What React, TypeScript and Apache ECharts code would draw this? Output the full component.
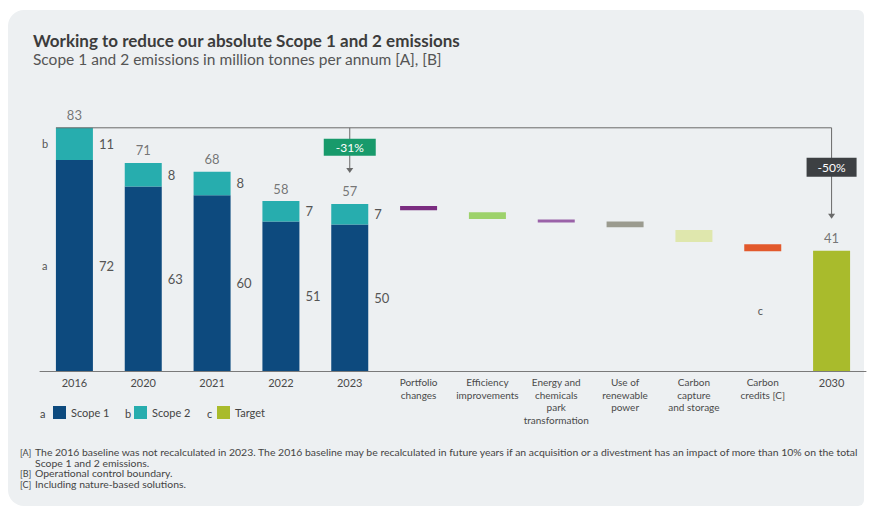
import React, { useEffect, useRef } from 'react';
import * as echarts from 'echarts';

const categories = [
  '2016', '2020', '2021', '2022', '2023',
  'Portfolio\nchanges',
  'Efficiency\nimprovements',
  'Energy and\nchemicals\npark\ntransformation',
  'Use of\nrenewable\npower',
  'Carbon\ncapture\nand storage',
  'Carbon\ncredits [C]',
  '2030',
];
const scope1 = [72, 63, 60, 51, 50];
const scope2 = [11, 8, 8, 7, 7];
const totals = [83, 71, 68, 58, 57];
const stepHigh = [56.3, 54.2, 51.7, 51.0, 48.1, 43.3];
const stepLow = [54.9, 51.9, 50.7, 49.1, 44.0, 40.9];
const target2030 = 41;
const legendNames = ['Scope 1', 'Scope 2', 'Target'];
const legendLetters = ['a', 'b', 'c'];
const changeLabels = ['-31%', '-50%'];
const titleText = 'Working to reduce our absolute Scope 1 and 2 emissions';
const subtitleText = 'Scope 1 and 2 emissions in million tonnes per annum [A], [B]';
const footMarks = ['[A]', '', '[B]', '[C]'];
const footLines = [
  'The 2016 baseline was not recalculated in 2023. The 2016 baseline may be recalculated in future years if an acquisition or a divestment has an impact of more than 10% on the total',
  'Scope 1 and 2 emissions.',
  'Operational control boundary.',
  'Including nature-based solutions.',
];

const FONT = 'Lato, "Noto Sans", sans-serif';
const NAVY = '#0d4a7e';
const TEAL = '#27adae';
const OLIVE = '#a9bb2c';
const STEP_COLORS = ['#7a2c80', '#9dd26b', '#9a62a8', '#9b9b8f', '#dfe7ad', '#e2592c'];
const LABEL = '#555';
const BAR_W = 37;

export default function App() {
  const ref = useRef<HTMLDivElement>(null);
  useEffect(() => {
    document.body.style.margin = '0';
    if (!ref.current) return;
    const chart = echarts.init(ref.current, null, { renderer: 'svg' });
    const n = categories.length;
    const pad = (arr: any[], start: number) => {
      const out: any[] = new Array(n).fill('-');
      arr.forEach((v, i) => (out[start + i] = v));
      return out;
    };
    const leftCats = 5;
    const xData = categories.map((c, i) => ({
      value: c,
      textStyle: { fontSize: i < leftCats || i === n - 1 ? 11 : 10, lineHeight: 12.5 },
    }));

    chart.setOption({
      animation: false,
      backgroundColor: '#ffffff',
      grid: { left: 40, right: 5, top: 78, bottom: 140 },
      xAxis: {
        type: 'category',
        data: xData,
        axisLine: { lineStyle: { color: '#7a7a7a', width: 1 } },
        axisTick: { show: false },
        axisLabel: { color: '#4a4a4a', fontFamily: FONT, margin: 5, interval: 0, verticalAlign: 'top' },
      },
      yAxis: { type: 'value', min: 0, max: 100, show: false, splitLine: { show: false } },
      legend: legendNames.map((name, i) => ({
        data: [name],
        left: [48, 129, 212][i],
        top: 401,
        itemWidth: 13,
        itemHeight: 13,
        icon: 'rect',
        selectedMode: false,
        textStyle: { fontSize: 11, color: '#444', fontFamily: FONT },
      })),
      series: [
        {
          name: 'Scope 1', type: 'bar', stack: 'scope', barWidth: BAR_W, barGap: '-100%',
          data: pad(scope1, 0), itemStyle: { color: NAVY },
          label: { show: true, position: 'right', distance: 6, fontSize: 13, color: LABEL, fontFamily: FONT },
        },
        {
          name: 'Scope 2', type: 'bar', stack: 'scope', barWidth: BAR_W, barGap: '-100%',
          data: pad(scope2, 0), itemStyle: { color: TEAL },
          label: { show: true, position: 'right', distance: 6, fontSize: 13, color: LABEL, fontFamily: FONT },
        },
        {
          name: 'base', type: 'bar', stack: 'step', barWidth: BAR_W, barGap: '-100%', silent: true,
          data: pad(stepLow, leftCats), itemStyle: { color: 'rgba(0,0,0,0)' },
        },
        {
          name: 'step', type: 'bar', stack: 'step', barWidth: BAR_W, barGap: '-100%',
          data: pad(stepHigh.map((h, i) => ({ value: +(h - stepLow[i]).toFixed(2), itemStyle: { color: STEP_COLORS[i] } })), leftCats),
        },
        {
          name: 'Target', type: 'bar', barWidth: BAR_W, barGap: '-100%',
          data: pad([target2030], n - 1), itemStyle: { color: OLIVE },
          label: { show: true, position: 'left', distance: 50, formatter: 'c', fontSize: 11, color: LABEL, fontFamily: FONT },
        },
        {
          name: 'totals', type: 'scatter', symbolSize: 0,
          data: [...totals, ...new Array(n - leftCats - 1).fill('-'), target2030],
          label: { show: true, position: 'top', distance: 6, fontSize: 13, color: LABEL, fontFamily: FONT },
        },
      ],
    });

    const px = (ci: number, v: number) => chart.convertToPixel({ xAxisIndex: 0, yAxisIndex: 0 }, [ci, v]) as number[];
    const [x0, yTop] = px(0, totals[0]);
    const x23 = px(4, totals[4])[0];
    const y23 = px(4, totals[4])[1];
    const [x30, y30] = px(n - 1, target2030);
    const tip23 = y23 - 31;
    const tip30 = y30 - 32;
    const lineStyle = { stroke: '#6a6a6a', lineWidth: 1 };
    const arrow = (x: number, tip: number) => ({
      type: 'polygon', z: 10,
      shape: { points: [[x - 3.5, tip - 5], [x + 3.5, tip - 5], [x, tip]] },
      style: { fill: '#6a6a6a' },
    });

    const graphics: any[] = [
      {
        type: 'rect', z: -10, silent: true,
        shape: { x: 8, y: 10, width: 856, height: 496, r: [16, 6, 6, 16] },
        style: { fill: '#edf0f2' },
      },
      { type: 'text', x: 33, y: 40, style: { text: titleText, font: `bold 17px ${FONT}`, fill: '#3c3c3c', verticalAlign: 'middle' } },
      { type: 'text', x: 33, y: 59, style: { text: subtitleText, font: `15.5px ${FONT}`, fill: '#555', verticalAlign: 'middle' } },
      // reference lines
      { type: 'line', z: 10, shape: { x1: x0 - BAR_W / 2, y1: yTop, x2: x30, y2: yTop }, style: lineStyle },
      { type: 'line', z: 10, shape: { x1: x23, y1: yTop, x2: x23, y2: tip23 - 4 }, style: lineStyle },
      { type: 'line', z: 10, shape: { x1: x30, y1: yTop, x2: x30, y2: tip30 - 4 }, style: lineStyle },
      arrow(x23, tip23),
      arrow(x30, tip30),
      { type: 'rect', z: 11, shape: { x: x23 - 26, y: yTop + 11, width: 52, height: 17 }, style: { fill: '#189a6b' } },
      { type: 'text', z: 12, x: x23, y: yTop + 19.5, style: { text: changeLabels[0], font: `12px ${FONT}`, fill: '#fff', align: 'center', verticalAlign: 'middle' } },
      { type: 'rect', z: 11, shape: { x: x30 - 25, y: yTop + 30, width: 50, height: 19 }, style: { fill: '#3d4043' } },
      { type: 'text', z: 12, x: x30, y: yTop + 39.5, style: { text: changeLabels[1], font: `12px ${FONT}`, fill: '#fff', align: 'center', verticalAlign: 'middle' } },
      // a / b markers next to 2016 bar
      { type: 'text', x: x0 - BAR_W / 2 - 14, y: px(0, scope1[0] + scope2[0] / 2)[1], style: { text: legendLetters[1], font: `11px ${FONT}`, fill: LABEL, verticalAlign: 'middle' } },
      { type: 'text', x: x0 - BAR_W / 2 - 14, y: px(0, scope1[0] / 2)[1], style: { text: legendLetters[0], font: `11px ${FONT}`, fill: LABEL, verticalAlign: 'middle' } },
    ];
    [40, 125, 207].forEach((lx, i) => {
      graphics.push({ type: 'text', x: lx, y: 413, style: { text: legendLetters[i], font: `11px ${FONT}`, fill: '#444', verticalAlign: 'middle' } });
    });
    const footY = [452.5, 463, 473.5, 484];
    footLines.forEach((t, i) => {
      if (footMarks[i]) graphics.push({ type: 'text', x: 20, y: footY[i], style: { text: footMarks[i], font: `9px ${FONT}`, fill: '#444', verticalAlign: 'middle' } });
      graphics.push({ type: 'text', x: 35, y: footY[i], scaleX: 1.16, style: { text: t, font: `9px ${FONT}`, fill: '#444', verticalAlign: 'middle' } });
    });
    chart.setOption({ graphic: graphics });

    return () => chart.dispose();
  }, []);
  return <div ref={ref} style={{ width: 871, height: 511 }} />;
}
